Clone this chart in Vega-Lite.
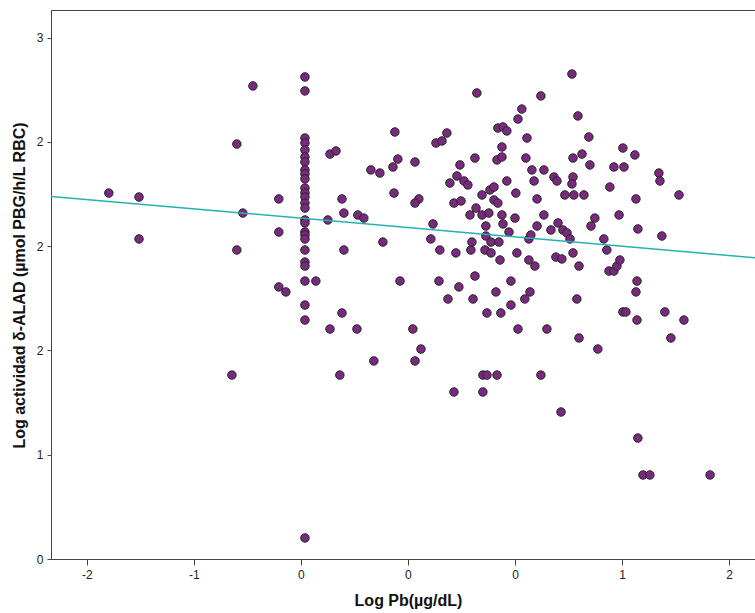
{
  "$schema": "https://vega.github.io/schema/vega-lite/v6.json",
  "width": 710,
  "height": 549,
  "autosize": {"type": "none"},
  "padding": {"left": 51, "top": 10, "right": 0, "bottom": 54},
  "background": "white",
  "config": {
    "view": {"stroke": "#444444", "strokeWidth": 1},
    "axis": {
      "grid": false,
      "domainColor": "#444444",
      "tickColor": "#444444",
      "labelFont": "Liberation Sans",
      "labelFontSize": 12,
      "labelColor": "#222222",
      "titleFont": "Liberation Sans",
      "titleFontSize": 16,
      "titleFontWeight": "bold",
      "titleColor": "#111111"
    }
  },
  "datasets": {
    "points": [
      {"pb": -1.397, "alad": 1.755}, {"pb": -1.256, "alad": 1.736}, {"pb": -1.256, "alad": 1.535},
      {"pb": -0.822, "alad": 0.882}, {"pb": -0.799, "alad": 1.482}, {"pb": -0.799, "alad": 1.990},
      {"pb": -0.771, "alad": 1.659}, {"pb": -0.724, "alad": 2.269}, {"pb": -0.603, "alad": 1.727},
      {"pb": -0.603, "alad": 1.568}, {"pb": -0.603, "alad": 1.305}, {"pb": -0.570, "alad": 1.281},
      {"pb": -0.481, "alad": 2.312}, {"pb": -0.481, "alad": 2.245}, {"pb": -0.481, "alad": 2.019},
      {"pb": -0.481, "alad": 1.995}, {"pb": -0.481, "alad": 1.962}, {"pb": -0.481, "alad": 1.928},
      {"pb": -0.481, "alad": 1.904}, {"pb": -0.481, "alad": 1.866}, {"pb": -0.481, "alad": 1.847},
      {"pb": -0.481, "alad": 1.823}, {"pb": -0.481, "alad": 1.779}, {"pb": -0.481, "alad": 1.755},
      {"pb": -0.481, "alad": 1.736}, {"pb": -0.481, "alad": 1.707}, {"pb": -0.481, "alad": 1.683},
      {"pb": -0.481, "alad": 1.626}, {"pb": -0.481, "alad": 1.612}, {"pb": -0.481, "alad": 1.568},
      {"pb": -0.481, "alad": 1.554}, {"pb": -0.481, "alad": 1.535}, {"pb": -0.481, "alad": 1.482},
      {"pb": -0.481, "alad": 1.424}, {"pb": -0.481, "alad": 1.405}, {"pb": -0.481, "alad": 1.333},
      {"pb": -0.481, "alad": 1.218}, {"pb": -0.481, "alad": 1.146}, {"pb": -0.481, "alad": 0.101},
      {"pb": -0.430, "alad": 1.333}, {"pb": -0.374, "alad": 1.626}, {"pb": -0.364, "alad": 1.103},
      {"pb": -0.364, "alad": 1.942}, {"pb": -0.336, "alad": 1.957}, {"pb": -0.308, "alad": 1.727},
      {"pb": -0.299, "alad": 1.659}, {"pb": -0.299, "alad": 1.482}, {"pb": -0.308, "alad": 1.180},
      {"pb": -0.318, "alad": 0.882}, {"pb": -0.234, "alad": 1.650}, {"pb": -0.206, "alad": 1.635},
      {"pb": -0.238, "alad": 1.103}, {"pb": -0.173, "alad": 1.866}, {"pb": -0.131, "alad": 1.851},
      {"pb": -0.159, "alad": 0.950}, {"pb": -0.117, "alad": 1.520}, {"pb": -0.065, "alad": 1.755},
      {"pb": -0.061, "alad": 2.048}, {"pb": -0.047, "alad": 1.918}, {"pb": -0.070, "alad": 1.880},
      {"pb": 0.033, "alad": 1.904}, {"pb": 0.051, "alad": 1.727}, {"pb": 0.033, "alad": 1.707},
      {"pb": -0.037, "alad": 1.333}, {"pb": 0.023, "alad": 1.103}, {"pb": 0.061, "alad": 1.007},
      {"pb": 0.033, "alad": 0.950}, {"pb": 0.117, "alad": 1.607}, {"pb": 0.107, "alad": 1.535},
      {"pb": 0.131, "alad": 1.995}, {"pb": 0.159, "alad": 2.005}, {"pb": 0.182, "alad": 2.043},
      {"pb": 0.149, "alad": 1.482}, {"pb": 0.145, "alad": 1.333}, {"pb": 0.187, "alad": 1.247},
      {"pb": 0.196, "alad": 1.803}, {"pb": 0.215, "alad": 1.707}, {"pb": 0.215, "alad": 0.801},
      {"pb": 0.224, "alad": 1.468}, {"pb": 0.229, "alad": 1.837}, {"pb": 0.238, "alad": 1.305},
      {"pb": 0.243, "alad": 1.890}, {"pb": 0.248, "alad": 1.717}, {"pb": 0.262, "alad": 1.813},
      {"pb": 0.280, "alad": 1.794}, {"pb": 0.290, "alad": 1.650}, {"pb": 0.294, "alad": 1.482},
      {"pb": 0.299, "alad": 1.520}, {"pb": 0.304, "alad": 1.247}, {"pb": 0.313, "alad": 1.923},
      {"pb": 0.313, "alad": 1.357}, {"pb": 0.318, "alad": 1.683}, {"pb": 0.322, "alad": 2.235},
      {"pb": 0.346, "alad": 1.746}, {"pb": 0.346, "alad": 1.650}, {"pb": 0.350, "alad": 0.882},
      {"pb": 0.369, "alad": 0.882}, {"pb": 0.416, "alad": 0.882}, {"pb": 0.350, "alad": 0.801},
      {"pb": 0.360, "alad": 1.482}, {"pb": 0.364, "alad": 1.549}, {"pb": 0.364, "alad": 1.597},
      {"pb": 0.369, "alad": 1.180}, {"pb": 0.378, "alad": 1.659}, {"pb": 0.383, "alad": 1.770},
      {"pb": 0.388, "alad": 1.520}, {"pb": 0.388, "alad": 1.468}, {"pb": 0.402, "alad": 1.784},
      {"pb": 0.402, "alad": 1.722}, {"pb": 0.411, "alad": 1.281}, {"pb": 0.416, "alad": 1.914},
      {"pb": 0.420, "alad": 2.067}, {"pb": 0.420, "alad": 1.707}, {"pb": 0.425, "alad": 1.520},
      {"pb": 0.430, "alad": 1.434}, {"pb": 0.434, "alad": 1.180}, {"pb": 0.439, "alad": 1.976},
      {"pb": 0.439, "alad": 1.928}, {"pb": 0.439, "alad": 1.650}, {"pb": 0.444, "alad": 2.072},
      {"pb": 0.444, "alad": 1.607}, {"pb": 0.462, "alad": 2.053}, {"pb": 0.462, "alad": 1.813},
      {"pb": 0.472, "alad": 1.568}, {"pb": 0.481, "alad": 1.333}, {"pb": 0.481, "alad": 1.218},
      {"pb": 0.500, "alad": 1.635}, {"pb": 0.504, "alad": 1.755}, {"pb": 0.509, "alad": 1.468},
      {"pb": 0.514, "alad": 2.110}, {"pb": 0.514, "alad": 1.103}, {"pb": 0.532, "alad": 2.158},
      {"pb": 0.546, "alad": 1.247}, {"pb": 0.551, "alad": 1.923}, {"pb": 0.556, "alad": 2.019},
      {"pb": 0.565, "alad": 1.535}, {"pb": 0.565, "alad": 1.434}, {"pb": 0.570, "alad": 1.281},
      {"pb": 0.574, "alad": 1.554}, {"pb": 0.579, "alad": 1.866}, {"pb": 0.589, "alad": 1.813},
      {"pb": 0.593, "alad": 1.405}, {"pb": 0.603, "alad": 1.727}, {"pb": 0.603, "alad": 1.597},
      {"pb": 0.621, "alad": 2.221}, {"pb": 0.621, "alad": 0.882}, {"pb": 0.635, "alad": 1.866},
      {"pb": 0.635, "alad": 1.650}, {"pb": 0.649, "alad": 1.103}, {"pb": 0.668, "alad": 1.578},
      {"pb": 0.682, "alad": 1.832}, {"pb": 0.691, "alad": 1.448}, {"pb": 0.696, "alad": 1.813},
      {"pb": 0.701, "alad": 1.612}, {"pb": 0.715, "alad": 0.705}, {"pb": 0.719, "alad": 1.439},
      {"pb": 0.724, "alad": 1.578}, {"pb": 0.733, "alad": 1.746}, {"pb": 0.743, "alad": 1.564},
      {"pb": 0.757, "alad": 1.535}, {"pb": 0.766, "alad": 2.326}, {"pb": 0.771, "alad": 1.923},
      {"pb": 0.771, "alad": 1.832}, {"pb": 0.766, "alad": 1.799}, {"pb": 0.771, "alad": 1.468},
      {"pb": 0.775, "alad": 1.746}, {"pb": 0.789, "alad": 1.247}, {"pb": 0.794, "alad": 2.125},
      {"pb": 0.799, "alad": 1.405}, {"pb": 0.799, "alad": 1.060}, {"pb": 0.813, "alad": 1.942},
      {"pb": 0.822, "alad": 1.746}, {"pb": 0.845, "alad": 2.024}, {"pb": 0.850, "alad": 1.890},
      {"pb": 0.855, "alad": 1.597}, {"pb": 0.873, "alad": 1.635}, {"pb": 0.887, "alad": 1.007},
      {"pb": 0.915, "alad": 1.535}, {"pb": 0.929, "alad": 1.482}, {"pb": 0.939, "alad": 1.381},
      {"pb": 0.943, "alad": 1.784}, {"pb": 0.962, "alad": 1.880}, {"pb": 0.962, "alad": 1.381},
      {"pb": 0.976, "alad": 1.405}, {"pb": 0.986, "alad": 1.650}, {"pb": 0.990, "alad": 1.434},
      {"pb": 1.004, "alad": 1.971}, {"pb": 1.004, "alad": 1.185}, {"pb": 1.018, "alad": 1.185},
      {"pb": 1.009, "alad": 1.880}, {"pb": 1.060, "alad": 1.938}, {"pb": 1.065, "alad": 1.727},
      {"pb": 1.070, "alad": 1.333}, {"pb": 1.065, "alad": 1.281}, {"pb": 1.070, "alad": 1.146},
      {"pb": 1.074, "alad": 1.583}, {"pb": 1.074, "alad": 0.580}, {"pb": 1.098, "alad": 0.403},
      {"pb": 1.130, "alad": 0.403}, {"pb": 1.172, "alad": 1.851}, {"pb": 1.177, "alad": 1.813},
      {"pb": 1.186, "alad": 1.549}, {"pb": 1.200, "alad": 1.185}, {"pb": 1.228, "alad": 1.060},
      {"pb": 1.266, "alad": 1.746}, {"pb": 1.289, "alad": 1.146}, {"pb": 1.411, "alad": 0.403}
    ],
    "fit": [
      {"pb": -1.667, "alad": 1.739},
      {"pb": 1.649, "alad": 1.442}
    ]
  },
  "layer": [
    {
      "data": {"name": "points"},
      "mark": {"type": "circle", "size": 72, "fill": "#7a2a7e", "fillOpacity": 1, "opacity": 1, "stroke": "#262626", "strokeWidth": 1},
      "encoding": {
        "x": {
          "field": "pb",
          "type": "quantitative",
          "scale": {"domain": [-1.667, 1.649], "nice": false, "zero": false},
          "axis": {
            "title": "Log Pb(µg/dL)",
            "values": [-1.5, -1, -0.5, 0, 0.5, 1, 1.5],
            "labelExpr": "datum.value == -1.5 ? '-2' : datum.value == -1 ? '-1' : datum.value == 1 ? '1' : datum.value == 1.5 ? '2' : '0'",
            "tickSize": 6,
            "labelPadding": 4,
            "titleX": 357,
            "titleY": 33
          }
        },
        "y": {
          "field": "alad",
          "type": "quantitative",
          "scale": {"domain": [0, 2.633], "nice": false, "zero": false},
          "axis": {
            "title": "Log actividad δ-ALAD  (µmol PBG/h/L RBC)",
            "values": [0, 0.5, 1, 1.5, 2, 2.5],
            "labelExpr": "datum.value == 0 ? '0' : datum.value == 0.5 ? '1' : datum.value == 2.5 ? '3' : '2'",
            "tickSize": 4,
            "labelPadding": 4,
            "titleX": -24,
            "titleY": 275
          }
        }
      }
    },
    {
      "data": {"name": "fit"},
      "mark": {"type": "line", "color": "#26b1b1", "strokeWidth": 1.5},
      "encoding": {
        "x": {"field": "pb", "type": "quantitative"},
        "y": {"field": "alad", "type": "quantitative"}
      }
    }
  ]
}
